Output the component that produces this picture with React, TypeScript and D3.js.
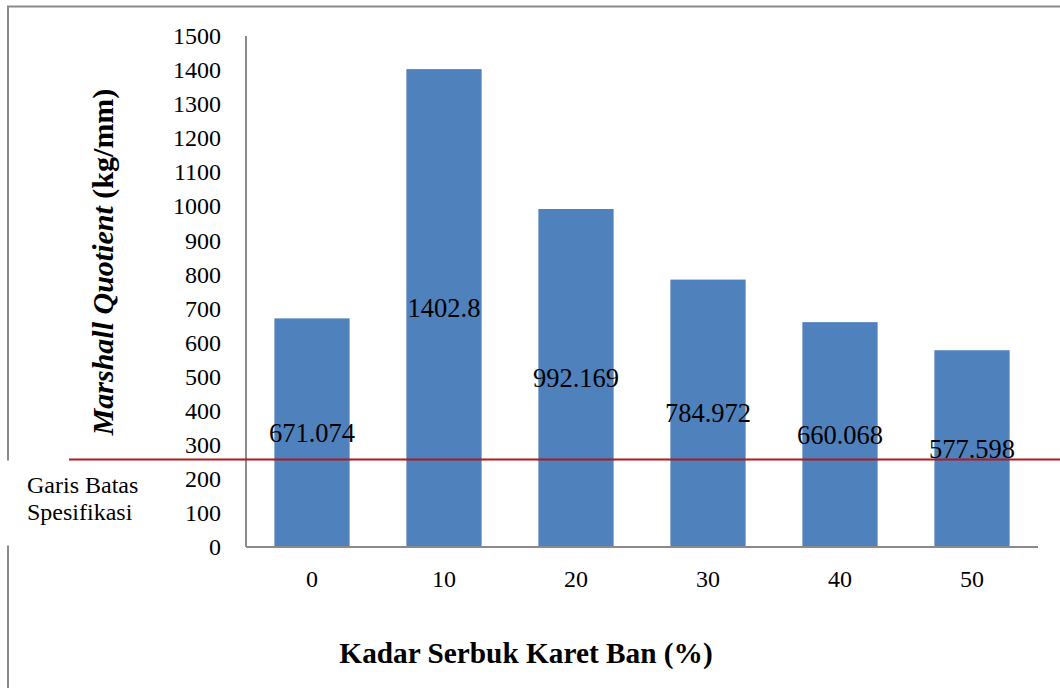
import React from "react";
import * as d3 from "d3";

const categories: string[] = ["0", "10", "20", "30", "40", "50"];
const values: number[] = [671.074, 1402.8, 992.169, 784.972, 660.068, 577.598];
const yTicks: number[] = [0, 100, 200, 300, 400, 500, 600, 700, 800, 900, 1000, 1100, 1200, 1300, 1400, 1500];
const specLimit: number = 257;
const specLabel: string[] = ["Garis Batas", "Spesifikasi"];
const xTitle = "Kadar Serbuk Karet Ban (%)";

const W = 1060;
const H = 688;
const FONT = "Liberation Serif, Times New Roman, Times, serif";

export default function App() {
  const left = 246, right = 1038, top = 36, bottom = 547;
  const x = d3.scaleBand<string>().domain(categories).range([left, right]).paddingInner(0.43).paddingOuter(0.215);
  const y = d3.scaleLinear().domain([0, 1500]).range([bottom, top]);
  const axisColor = "#8a8a8a";
  const specY = y(specLimit);
  const ts = { fontFamily: FONT, fontWeight: 400 } as React.CSSProperties;

  return (
    <svg width={W} height={H} style={{ position: "absolute", left: 0, top: 0, fontFamily: FONT }}>
      <rect x={0} y={0} width={W} height={H} fill="#fff" />
      <rect x={8} y={6.5} width={1100} height={750} fill="none" stroke={axisColor} strokeWidth={2} />
      {values.map((v, i) => (
        <rect key={"b" + i} x={x(categories[i])} y={y(v)} width={x.bandwidth()} height={y(0) - y(v)} fill="#4F81BD" />
      ))}
      <line x1={left} x2={left} y1={top} y2={bottom} stroke={axisColor} strokeWidth={2} />
      <line x1={left} x2={right} y1={bottom} y2={bottom} stroke={axisColor} strokeWidth={2} />
      {yTicks.map((t) => (
        <text key={"yt" + t} style={ts} x={221} y={y(t)} dy="0.34em" textAnchor="end" fontSize={24} fill="#000">
          {t}
        </text>
      ))}
      {categories.map((c) => (
        <text key={"xt" + c} style={ts} x={(x(c) as number) + x.bandwidth() / 2} y={587} textAnchor="middle" fontSize={24} fill="#000">
          {c}
        </text>
      ))}
      <rect x={2} y={460.5} width={143} height={85} fill="#fff" />
      <line x1={69} x2={W} y1={specY} y2={specY} stroke="#AE1A1F" strokeWidth={2} />
      {values.map((v, i) => (
        <text key={"dl" + i} style={ts} x={(x(categories[i]) as number) + x.bandwidth() / 2} y={y(v / 2)} dy="0.34em" textAnchor="middle" fontSize={26.5} fill="#000">
          {String(v)}
        </text>
      ))}
      {specLabel.map((s, i) => (
        <text key={"sl" + i} style={ts} x={27} y={493 + i * 27} fontSize={24} fill="#000">
          {s}
        </text>
      ))}
      <text style={{ fontFamily: FONT }} transform="translate(113,262) rotate(-90)" textAnchor="middle" fontSize={30} fontWeight="bold" fill="#000">
        <tspan fontStyle="italic">Marshall Quotient</tspan> (kg/mm)
      </text>
      <text style={{ fontFamily: FONT }} x={526} y={663} textAnchor="middle" fontSize={29.3} fontWeight="bold" fill="#000">
        {xTitle}
      </text>
    </svg>
  );
}
